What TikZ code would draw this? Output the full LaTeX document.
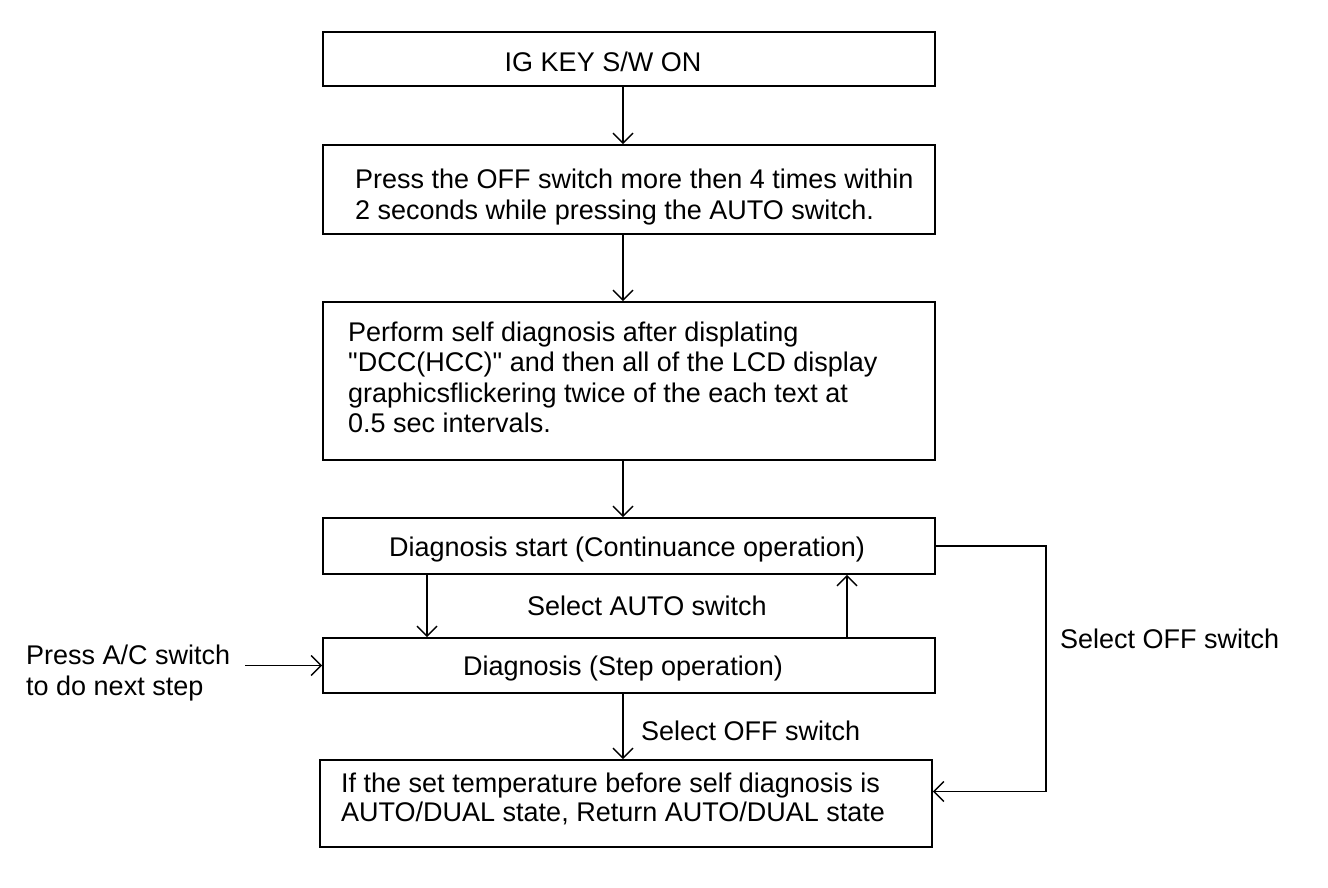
\documentclass[tikz,border=0pt]{standalone}
\usepackage{fontspec}
\setmainfont{Liberation Sans}
\usetikzlibrary{arrows.meta}
\begin{document}
\begin{tikzpicture}[x=1pt,y=-1pt,
  box/.style={draw, line width=1.8pt, rectangle, inner sep=0pt},
  txt/.style={inner sep=0pt, font=\fontsize{27}{29}\selectfont, anchor=base west},
  arr/.style={line width=1.4pt, -{Straight Barb[length=10pt,width=20pt,line width=1.4pt]}},
  ln/.style={line width=1.4pt}]
\useasboundingbox[fill=white] (0,0) rectangle (1328,888);
% boxes
\node[box, minimum width=612pt, minimum height=54pt] (b1) at (629,59) {};
\node[box, minimum width=612pt, minimum height=89pt] (b2) at (629,189.5) {};
\node[box, minimum width=612pt, minimum height=158pt] (b3) at (629,381) {};
\node[box, minimum width=612pt, minimum height=56pt] (b4) at (629,546) {};
\node[box, minimum width=612pt, minimum height=55pt] (b5) at (629,665.5) {};
\node[box, minimum width=612pt, minimum height=87pt] (b6) at (626,803.5) {};
% texts
\node[txt, anchor=base] (t1) at (603,72) {IG KEY S/W ON};
\node[txt] (t2a) at (355,189) {Press the OFF switch more then 4 times within};
\node[txt] (t2b) at (355,219) {2 seconds while pressing the AUTO switch.};
\node[txt] (t3a) at (348,341) {Perform self diagnosis after displating};
\node[txt] (t3b) at (348,371) {\textquotedbl DCC(HCC)\textquotedbl{} and then all of the LCD display};
\node[txt] (t3c) at (348,402) {graphicsflickering twice of the each text at};
\node[txt] (t3d) at (348,432) {0.5 sec intervals.};
\node[txt, anchor=base] (t4) at (627,556) {Diagnosis start (Continuance operation)};
\node[txt, anchor=base] (t5) at (623,675) {Diagnosis (Step operation)};
\node[txt] (t6a) at (341,792) {If the set temperature before self diagnosis is};
\node[txt] (t6b) at (341,821) {AUTO/DUAL state, Return AUTO/DUAL state};
% labels
\node[txt] (lauto) at (527,615) {Select AUTO switch};
\node[txt] (loff1) at (641,740) {Select OFF switch};
\node[txt] (loff2) at (1060,648) {Select OFF switch};
\node[txt] (lpa) at (26,664) {Press A/C switch};
\node[txt] (lpb) at (26,695) {to do next step};
% connectors
\draw[arr] ([xshift=-6pt]b1.south) -- ([xshift=-6pt]b2.north);
\draw[arr] ([xshift=-6pt]b2.south) -- ([xshift=-6pt]b3.north);
\draw[arr] ([xshift=-6pt]b3.south) -- ([xshift=-6pt]b4.north);
\draw[arr] ([xshift=-202pt]b4.south) -- ([xshift=-202pt]b5.north);
\draw[arr] ([xshift=218pt]b5.north) -- ([xshift=218pt]b4.south);
\draw[arr] ([xshift=-6pt]b5.south) -- ([xshift=-6pt]b5.south |- b6.north);
\draw[arr] ([xshift=15pt]lpa.east |- b5.west) -- (b5.west);
\draw[arr] (b4.east) -- ++(110,0) |- ([yshift=12pt]b6.east);
\end{tikzpicture}
\end{document}
